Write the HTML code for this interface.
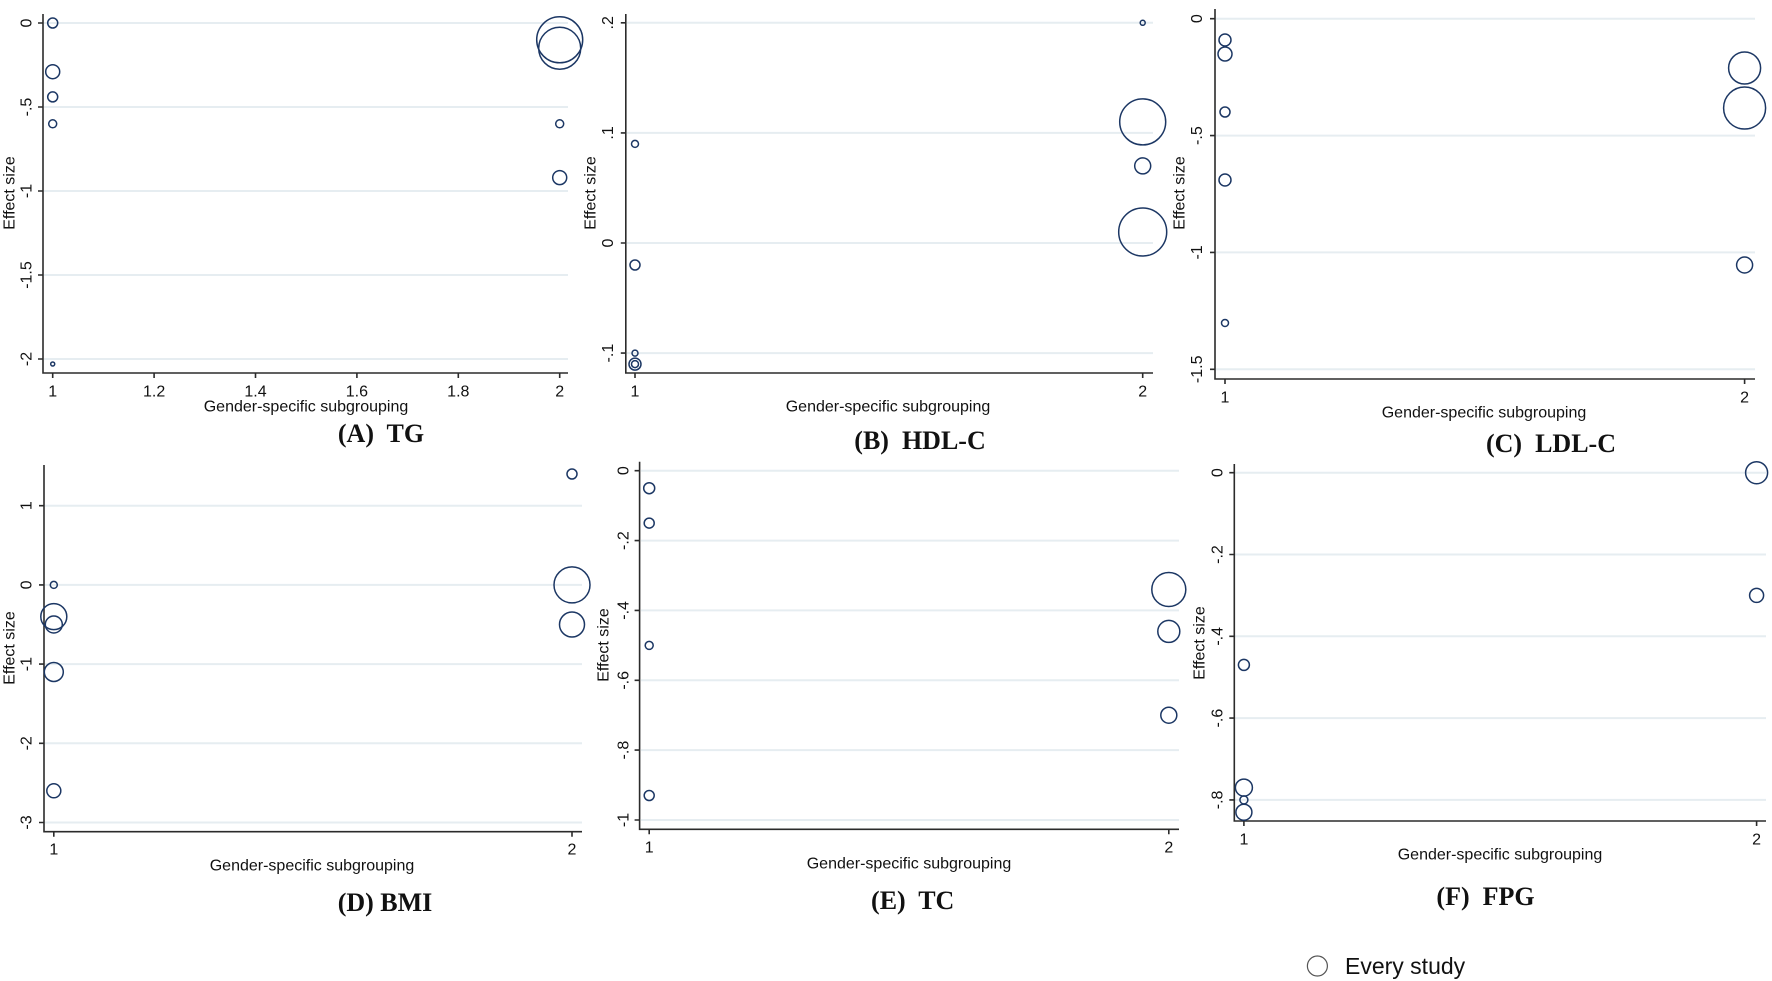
<!DOCTYPE html>
<html><head><meta charset="utf-8"><style>
html,body{margin:0;padding:0;background:#fff}
svg{display:block}
.ax{stroke:#2b2b2b;stroke-width:1.6;fill:none}
.gr{stroke:#e6edf1;stroke-width:2}
.c{fill:none;stroke:#1c3764;stroke-width:1.5}
.t{font-family:"Liberation Sans",sans-serif;font-size:16px;fill:#111}
.cap{font-family:"Liberation Serif",serif;font-size:26px;font-weight:bold;fill:#111;white-space:pre}
</style></head><body>
<svg width="1772" height="981" viewBox="0 0 1772 981" xmlns="http://www.w3.org/2000/svg">
<!-- Panel A -->
<g>
<line class="gr" x1="44" x2="568" y1="23" y2="23"/><line class="gr" x1="44" x2="568" y1="107" y2="107"/><line class="gr" x1="44" x2="568" y1="191" y2="191"/><line class="gr" x1="44" x2="568" y1="275" y2="275"/><line class="gr" x1="44" x2="568" y1="359" y2="359"/>
<path class="ax" d="M43 14V373H568"/>
<path class="ax" d="M38 23H43M38 107H43M38 191H43M38 275H43M38 359H43M52.7 373V378M154.1 373V378M255.5 373V378M356.9 373V378M458.3 373V378M559.7 373V378"/>
<g class="t" text-anchor="middle" dominant-baseline="central">
<text x="27" y="23" transform="rotate(-90 27 23)">0</text><text x="27" y="107" transform="rotate(-90 27 107)">-.5</text><text x="27" y="191" transform="rotate(-90 27 191)">-1</text><text x="27" y="275" transform="rotate(-90 27 275)">-1.5</text><text x="27" y="359" transform="rotate(-90 27 359)">-2</text>
<text x="52.7" y="392">1</text><text x="154.1" y="392">1.2</text><text x="255.5" y="392">1.4</text><text x="356.9" y="392">1.6</text><text x="458.3" y="392">1.8</text><text x="559.7" y="392">2</text>
<text x="306" y="407">Gender-specific subgrouping</text>
<text x="10" y="193" transform="rotate(-90 10 193)">Effect size</text>
</g>
<circle class="c" cx="52.7" cy="23" r="5"/><circle class="c" cx="52.7" cy="71.7" r="7"/><circle class="c" cx="52.7" cy="96.9" r="5"/><circle class="c" cx="52.7" cy="123.8" r="4"/><circle class="c" cx="52.7" cy="364" r="2"/>
<circle class="c" cx="559.7" cy="39.8" r="23"/><circle class="c" cx="559.7" cy="48.2" r="21"/><circle class="c" cx="559.7" cy="123.8" r="4"/><circle class="c" cx="559.7" cy="177.6" r="7"/>
<text class="cap" x="381" y="442" text-anchor="middle">(A)  TG</text>
</g>
<!-- Panel B -->
<g>
<line class="gr" x1="627" x2="1153" y1="22.8" y2="22.8"/><line class="gr" x1="627" x2="1153" y1="132.9" y2="132.9"/><line class="gr" x1="627" x2="1153" y1="243" y2="243"/><line class="gr" x1="627" x2="1153" y1="353.1" y2="353.1"/>
<path class="ax" d="M625.8 14V373H1153"/>
<path class="ax" d="M620.8 22.8H625.8M620.8 132.9H625.8M620.8 243H625.8M620.8 353.1H625.8M635 373V378M1142.7 373V378"/>
<g class="t" text-anchor="middle" dominant-baseline="central">
<text x="608.5" y="22.8" transform="rotate(-90 608.5 22.8)">.2</text><text x="608.5" y="132.9" transform="rotate(-90 608.5 132.9)">.1</text><text x="608.5" y="243" transform="rotate(-90 608.5 243)">0</text><text x="608.5" y="353.1" transform="rotate(-90 608.5 353.1)">-.1</text>
<text x="635" y="392">1</text><text x="1142.7" y="392">2</text>
<text x="888" y="407">Gender-specific subgrouping</text>
<text x="591" y="193" transform="rotate(-90 591 193)">Effect size</text>
</g>
<circle class="c" cx="635" cy="143.9" r="3.5"/><circle class="c" cx="635" cy="265" r="5"/><circle class="c" cx="635" cy="353.1" r="3"/><circle class="c" cx="635" cy="364.1" r="6"/><circle class="c" cx="635" cy="364.1" r="3.5"/>
<circle class="c" cx="1142.7" cy="22.8" r="2.5"/><circle class="c" cx="1142.7" cy="121.9" r="23"/><circle class="c" cx="1142.7" cy="165.9" r="8"/><circle class="c" cx="1142.7" cy="232" r="24"/>
<text class="cap" x="920" y="449" text-anchor="middle">(B)  HDL-C</text>
</g>
<!-- Panel C -->
<g>
<line class="gr" x1="1216" x2="1755" y1="18.7" y2="18.7"/><line class="gr" x1="1216" x2="1755" y1="135.6" y2="135.6"/><line class="gr" x1="1216" x2="1755" y1="252.4" y2="252.4"/><line class="gr" x1="1216" x2="1755" y1="369.3" y2="369.3"/>
<path class="ax" d="M1215 9V379H1755"/>
<path class="ax" d="M1210 18.7H1215M1210 135.6H1215M1210 252.4H1215M1210 369.3H1215M1225 379V384M1744.6 379V384"/>
<g class="t" text-anchor="middle" dominant-baseline="central">
<text x="1197.7" y="18.7" transform="rotate(-90 1197.7 18.7)">0</text><text x="1197.7" y="135.6" transform="rotate(-90 1197.7 135.6)">-.5</text><text x="1197.7" y="252.4" transform="rotate(-90 1197.7 252.4)">-1</text><text x="1197.7" y="369.3" transform="rotate(-90 1197.7 369.3)">-1.5</text>
<text x="1225" y="398">1</text><text x="1744.6" y="398">2</text>
<text x="1484" y="413">Gender-specific subgrouping</text>
<text x="1180" y="193" transform="rotate(-90 1180 193)">Effect size</text>
</g>
<circle class="c" cx="1225" cy="40" r="6"/><circle class="c" cx="1225" cy="54" r="7"/><circle class="c" cx="1225" cy="112" r="5"/><circle class="c" cx="1225" cy="180" r="6"/><circle class="c" cx="1225" cy="323" r="3.5"/>
<circle class="c" cx="1744.6" cy="68" r="16"/><circle class="c" cx="1744.6" cy="108" r="21"/><circle class="c" cx="1744.6" cy="265" r="8"/>
<text class="cap" x="1551" y="452" text-anchor="middle">(C)  LDL-C</text>
</g>
<!-- Panel D -->
<g>
<line class="gr" x1="45" x2="582" y1="505.7" y2="505.7"/><line class="gr" x1="45" x2="582" y1="584.9" y2="584.9"/><line class="gr" x1="45" x2="582" y1="664.1" y2="664.1"/><line class="gr" x1="45" x2="582" y1="743.3" y2="743.3"/><line class="gr" x1="45" x2="582" y1="822.5" y2="822.5"/>
<path class="ax" d="M44 465V831.7H582"/>
<path class="ax" d="M39 505.7H44M39 584.9H44M39 664.1H44M39 743.3H44M39 822.5H44M53.8 831.7V836.7M572 831.7V836.7"/>
<g class="t" text-anchor="middle" dominant-baseline="central">
<text x="27" y="505.7" transform="rotate(-90 27 505.7)">1</text><text x="27" y="584.9" transform="rotate(-90 27 584.9)">0</text><text x="27" y="664.1" transform="rotate(-90 27 664.1)">-1</text><text x="27" y="743.3" transform="rotate(-90 27 743.3)">-2</text><text x="27" y="822.5" transform="rotate(-90 27 822.5)">-3</text>
<text x="53.8" y="850">1</text><text x="572" y="850">2</text>
<text x="312" y="866">Gender-specific subgrouping</text>
<text x="10" y="648" transform="rotate(-90 10 648)">Effect size</text>
</g>
<circle class="c" cx="53.8" cy="584.9" r="3.5"/><circle class="c" cx="53.8" cy="616.6" r="13"/><circle class="c" cx="53.8" cy="624.5" r="8.5"/><circle class="c" cx="53.8" cy="672" r="9.5"/><circle class="c" cx="53.8" cy="790.8" r="7"/>
<circle class="c" cx="572" cy="474" r="5"/><circle class="c" cx="572" cy="584.9" r="18"/><circle class="c" cx="572" cy="624.5" r="12.5"/>
<text class="cap" x="385" y="911" text-anchor="middle">(D) BMI</text>
</g>
<!-- Panel E -->
<g>
<line class="gr" x1="641" x2="1179" y1="470.7" y2="470.7"/><line class="gr" x1="641" x2="1179" y1="540.6" y2="540.6"/><line class="gr" x1="641" x2="1179" y1="610.4" y2="610.4"/><line class="gr" x1="641" x2="1179" y1="680.3" y2="680.3"/><line class="gr" x1="641" x2="1179" y1="750.1" y2="750.1"/><line class="gr" x1="641" x2="1179" y1="820" y2="820"/>
<path class="ax" d="M639.6 461.7V829.3H1179"/>
<path class="ax" d="M634.6 470.7H639.6M634.6 540.6H639.6M634.6 610.4H639.6M634.6 680.3H639.6M634.6 750.1H639.6M634.6 820H639.6M649.2 829.3V834.3M1168.8 829.3V834.3"/>
<g class="t" text-anchor="middle" dominant-baseline="central">
<text x="624" y="470.7" transform="rotate(-90 624 470.7)">0</text><text x="624" y="540.6" transform="rotate(-90 624 540.6)">-.2</text><text x="624" y="610.4" transform="rotate(-90 624 610.4)">-.4</text><text x="624" y="680.3" transform="rotate(-90 624 680.3)">-.6</text><text x="624" y="750.1" transform="rotate(-90 624 750.1)">-.8</text><text x="624" y="820" transform="rotate(-90 624 820)">-1</text>
<text x="649.2" y="848">1</text><text x="1168.8" y="848">2</text>
<text x="909" y="864">Gender-specific subgrouping</text>
<text x="604" y="645" transform="rotate(-90 604 645)">Effect size</text>
</g>
<circle class="c" cx="649.2" cy="488.2" r="5.5"/><circle class="c" cx="649.2" cy="523.1" r="5"/><circle class="c" cx="649.2" cy="645.4" r="4"/><circle class="c" cx="649.2" cy="795.5" r="5"/>
<circle class="c" cx="1168.8" cy="589.5" r="17"/><circle class="c" cx="1168.8" cy="631.4" r="11"/><circle class="c" cx="1168.8" cy="715.2" r="8"/>
<text class="cap" x="912.7" y="909" text-anchor="middle">(E)  TC</text>
</g>
<!-- Panel F -->
<g>
<line class="gr" x1="1235" x2="1766" y1="472.7" y2="472.7"/><line class="gr" x1="1235" x2="1766" y1="554.5" y2="554.5"/><line class="gr" x1="1235" x2="1766" y1="636.3" y2="636.3"/><line class="gr" x1="1235" x2="1766" y1="718.1" y2="718.1"/><line class="gr" x1="1235" x2="1766" y1="799.9" y2="799.9"/>
<path class="ax" d="M1234.3 464V821H1766"/>
<path class="ax" d="M1229.3 472.7H1234.3M1229.3 554.5H1234.3M1229.3 636.3H1234.3M1229.3 718.1H1234.3M1229.3 799.9H1234.3M1243.9 821V826M1756.6 821V826"/>
<g class="t" text-anchor="middle" dominant-baseline="central">
<text x="1218" y="472.7" transform="rotate(-90 1218 472.7)">0</text><text x="1218" y="554.5" transform="rotate(-90 1218 554.5)">-.2</text><text x="1218" y="636.3" transform="rotate(-90 1218 636.3)">-.4</text><text x="1218" y="718.1" transform="rotate(-90 1218 718.1)">-.6</text><text x="1218" y="799.9" transform="rotate(-90 1218 799.9)">-.8</text>
<text x="1243.9" y="840">1</text><text x="1756.6" y="840">2</text>
<text x="1500" y="855">Gender-specific subgrouping</text>
<text x="1200" y="643" transform="rotate(-90 1200 643)">Effect size</text>
</g>
<circle class="c" cx="1243.9" cy="664.9" r="5.5"/><circle class="c" cx="1243.9" cy="787.6" r="8.5"/><circle class="c" cx="1243.9" cy="799.9" r="4"/><circle class="c" cx="1243.9" cy="812.2" r="8"/>
<circle class="c" cx="1756.6" cy="472.7" r="11"/><circle class="c" cx="1756.6" cy="595.4" r="7"/>
<text class="cap" x="1485.5" y="905" text-anchor="middle">(F)  FPG</text>
</g>
<!-- Legend -->
<circle cx="1317.4" cy="966" r="10" fill="none" stroke="#555" stroke-width="1.2"/>
<text x="1345" y="974" font-family="Liberation Sans, sans-serif" font-size="23" fill="#111">Every study</text>
</svg>
</body></html>
